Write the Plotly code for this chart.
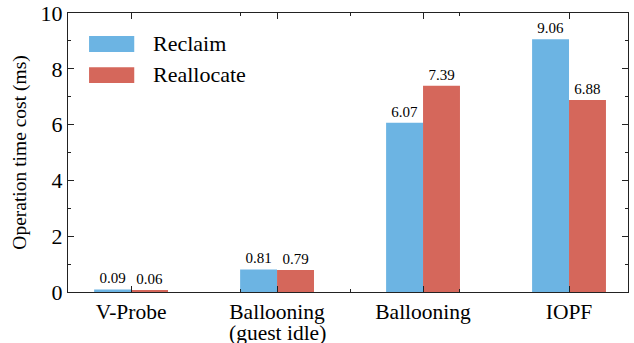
import plotly.graph_objects as go

categories = ["V-Probe", "Ballooning", "Ballooning", "IOPF"]
category_notes = ["", "(guest idle)", "", ""]
reclaim = [0.09, 0.81, 6.07, 9.06]
reallocate = [0.06, 0.79, 7.39, 6.88]
series_names = ["Reclaim", "Reallocate"]
y_ticks = [0, 2, 4, 6, 8, 10]

BLUE = "#6cb4e3"
RED = "#d5675b"
FONT = "'Liberation Serif', 'Times New Roman', Times, serif"

xpos = list(range(len(categories)))

fig = go.Figure()
for name, vals, col in [(series_names[0], reclaim, BLUE), (series_names[1], reallocate, RED)]:
    fig.add_trace(go.Bar(
        x=xpos, y=vals, name=name, marker=dict(color=col, line=dict(width=0)),
        text=[f"{v:.2f}" for v in vals], textposition="outside",
        textfont=dict(family=FONT, size=15, color="black"),
        constraintext="none", cliponaxis=False, showlegend=False,
    ))

fig.update_layout(
    width=634, height=343,
    margin=dict(l=68, r=6, t=13, b=51, autoexpand=False),
    plot_bgcolor="white", paper_bgcolor="white",
    barmode="group", bargap=0.494, bargroupgap=0,
    font=dict(family=FONT, size=21, color="black"),
)
fig.update_xaxes(
    automargin=False,
    range=[-0.432, 3.404], tickmode="array", tickvals=xpos, ticktext=categories,
    ticks="inside", ticklen=6, tickcolor="#222", showline=True, linecolor="#222",
    linewidth=1, mirror="ticks", showgrid=False, zeroline=False,
    tickfont=dict(family=FONT, size=21.5),
    minor=dict(tickmode="array", tickvals=[0.75, 1.5, 2.25], ticks="inside",
               ticklen=3, tickcolor="#222", showgrid=False),
)
fig.update_yaxes(
    automargin=False,
    range=[0, 10], tickmode="array", tickvals=y_ticks,
    ticks="inside", ticklen=6, tickcolor="#222", showline=True, linecolor="#222",
    linewidth=1, mirror="ticks", showgrid=False, zeroline=False,
    tickfont=dict(family=FONT, size=22),
    title=dict(text="Operation time cost (ms)", font=dict(family=FONT, size=19.5), standoff=8),
    minor=dict(dtick=1, tick0=0, ticks="inside", ticklen=3, tickcolor="#222", showgrid=False),
)

# second line of category labels
for xp, note in zip(xpos, category_notes):
    if note:
        fig.add_annotation(xref="x", yref="paper", x=xp, y=-0.146, text=note,
                           showarrow=False, xanchor="center", yanchor="middle",
                           font=dict(family=FONT, size=21.5, color="black"))

# custom legend
for (name, col, y0, y1, yt) in [(series_names[0], BLUE, 0.860, 0.9176, 0.889),
                                (series_names[1], RED, 0.749, 0.806, 0.778)]:
    fig.add_shape(type="rect", xref="paper", yref="paper", x0=0.0376, x1=0.1183,
                  y0=y0, y1=y1, fillcolor=col, line=dict(width=0))
    fig.add_annotation(xref="paper", yref="paper", x=0.148, y=yt, text=name,
                       showarrow=False, xanchor="left", yanchor="middle",
                       font=dict(family=FONT, size=22, color="black"))

fig.write_html("out.html", config={"displayModeBar": False},
               post_script="document.body.style.margin='0';document.body.style.overflow='hidden';")
